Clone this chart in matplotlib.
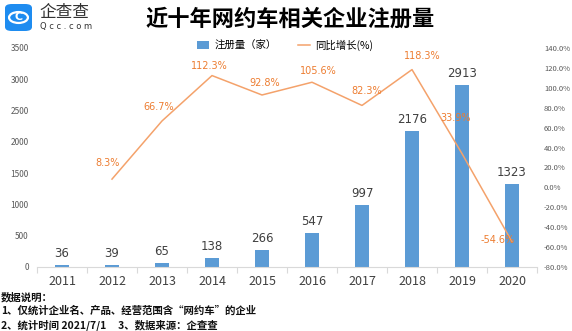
import matplotlib
matplotlib.use("Agg")
import matplotlib.pyplot as plt
from matplotlib.patches import FancyBboxPatch, Circle

plt.rcParams["font.family"] = ["Noto Sans CJK SC", "DejaVu Sans"]
plt.rcParams["axes.unicode_minus"] = False

years = ["2011", "2012", "2013", "2014", "2015", "2016", "2017", "2018", "2019", "2020"]
counts = [36, 39, 65, 138, 266, 547, 997, 2176, 2913, 1323]
growth_years = years[1:]
growth = [8.3, 66.7, 112.3, 92.8, 105.6, 82.3, 118.3, 33.9, -54.6]
# label offsets (pixels) for the growth labels, as placed in the source
growth_offsets = [(-4, 16), (-3, 14), (-3, 10), (3, 12), (6, 11), (5, 14), (10, 14), (-6, 36), (-14, 2)]

BLUE = "#5B9BD5"
ORANGE = "#ED7D31"
GRAY = "#595959"

fig = plt.figure(figsize=(5.72, 3.31), dpi=100)
ax = fig.add_axes([37 / 572, 1 - 267 / 331, 500 / 572, 219 / 331])
x = list(range(len(years)))

ax.bar(x, counts, width=0.28, color=BLUE, zorder=2, label="注册量（家）")
for xi, v in zip(x, counts):
    ax.annotate(str(v), (xi, v), xytext=(0, 5), textcoords="offset pixels",
                ha="center", va="bottom", fontsize=8.5, color="#404040",
                family=["DejaVu Sans"])

ax.set_xlim(-0.5, len(years) - 0.5)
ax.set_ylim(0, 3500)
ax.set_yticks(range(0, 3501, 500))
ax.set_xticks([i - 0.5 for i in range(len(years) + 1)], minor=False)
ax.set_xticklabels([])
ax.tick_params(axis="x", length=4, color="#D9D9D9", direction="out")
ax.set_xticks(x, minor=True)
ax.set_xticklabels(years, minor=True)
ax.tick_params(axis="x", which="minor", length=0, labelsize=9, labelcolor="#404040", pad=6)
ax.tick_params(axis="y", length=0, labelsize=6, labelcolor=GRAY, pad=6)
for s in ["top", "right", "left"]:
    ax.spines[s].set_visible(False)
ax.spines["bottom"].set_color("#D9D9D9")

ax2 = ax.twinx()
gx = [years.index(y) for y in growth_years]
ax2.plot(gx, growth, color="#F4A26B", linewidth=1.1, zorder=3, label="同比增长(%)")
for xi, v, (dx, dy) in zip(gx, growth, growth_offsets):
    ax2.annotate(f"{v}%", (xi, v), xytext=(dx, dy), textcoords="offset pixels",
                 ha="center", va="center", fontsize=7, color=ORANGE,
                 family=["DejaVu Sans"])
ax2.set_ylim(-80, 140)
ax2.set_yticks(range(-80, 141, 20))
ax2.set_yticklabels([f"{t:.1f}%" for t in range(-80, 141, 20)])
ax2.tick_params(axis="y", length=0, labelsize=5.5, labelcolor=GRAY, pad=5)
for s in ["top", "right", "left", "bottom"]:
    ax2.spines[s].set_visible(False)

h1, l1 = ax.get_legend_handles_labels()
h2, l2 = ax2.get_legend_handles_labels()
fig.legend(h1 + h2, l1 + l2, loc="center", bbox_to_anchor=(285 / 572, 1 - 45 / 331),
           ncol=2, frameon=False, fontsize=7.5, handlelength=1.2, handleheight=0.8,
           columnspacing=2.0, handletextpad=0.5)

fig.text(290 / 572, 1 - 19 / 331, "近十年网约车相关企业注册量", ha="center", va="center",
         fontsize=16, fontweight="bold", color="black")

# logo
fig.patches.append(FancyBboxPatch((5 / 572, 1 - 31 / 331), 27 / 572, 27 / 331,
                                  boxstyle="round,pad=0,rounding_size=0.012",
                                  transform=fig.transFigure, facecolor="#1E8CF0",
                                  edgecolor="none"))
fig.text(18.5 / 572, 1 - 17.5 / 331, "C", ha="center", va="center", fontsize=8,
         fontweight="bold", color="white", family=["DejaVu Sans"])
fig.patches.append(Circle((18.5 / 572, 1 - 17.5 / 331), 0.0165, transform=fig.transFigure,
                          fill=False, edgecolor="white", linewidth=1.6))
fig.text(39 / 572, 1 - 12 / 331, "企查查", ha="left", va="center", fontsize=12,
         color="#333333")
fig.text(40 / 572, 1 - 26 / 331, "Q c c . c o m", ha="left", va="center", fontsize=6,
         color="#333333", family=["DejaVu Sans"])

notes = ["数据说明：",
         "1、仅统计企业名、产品、经营范围含“网约车”的企业",
         "2、统计时间 2021/7/1     3、数据来源：企查查"]
for i, t in enumerate(notes):
    fig.text(1 / 572, 1 - (297 + 14 * i) / 331, t, ha="left", va="center",
             fontsize=7.5, fontweight="bold", color="#111111")

fig.savefig("out.png", dpi=100)
